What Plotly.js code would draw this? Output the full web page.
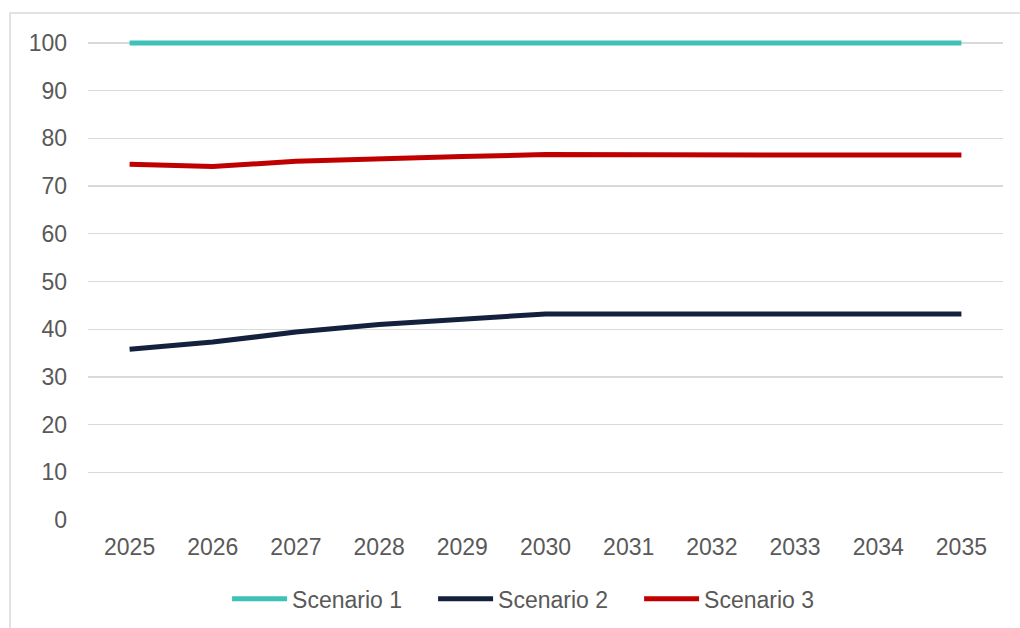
<!DOCTYPE html>
<html>
<head>
<meta charset="utf-8">
<script src="https://cdn.plot.ly/plotly-3.0.1.min.js"></script>
<style>
  html, body { margin: 0; padding: 0; background: #fff; }
  #chart { width: 1020px; height: 628px; }
</style>
</head>
<body>
<div id="chart"></div>
<script>
const years = ["2025","2026","2027","2028","2029","2030","2031","2032","2033","2034","2035"];
const scenario1 = [100, 100, 100, 100, 100, 100, 100, 100, 100, 100, 100];
const scenario2 = [35.8, 37.3, 39.4, 41.0, 42.1, 43.2, 43.2, 43.2, 43.2, 43.2, 43.2];
const scenario3 = [74.6, 74.1, 75.2, 75.8, 76.2, 76.6, 76.5, 76.5, 76.5, 76.5, 76.5];
const seriesNames = ["Scenario 1", "Scenario 2", "Scenario 3"];
const seriesColors = ["#3EC1B8", "#14213D", "#C00000"];

const allSeries = [scenario1, scenario2, scenario3];
const traces = allSeries.map((vals, i) => ({
  type: "scatter",
  mode: "lines",
  x: years,
  y: vals,
  name: seriesNames[i],
  line: { color: seriesColors[i], width: 5 },
  cliponaxis: false,
  hoverinfo: "x+y+name"
}));

const fontFam = "Liberation Sans, Arial, sans-serif";
const fs = 23;
const layout = {
  width: 1020,
  height: 628,
  margin: { l: 88, r: 17, t: 40, b: 108, autoexpand: false },
  paper_bgcolor: "#ffffff",
  plot_bgcolor: "#ffffff",
  font: { family: fontFam, size: fs, color: "#595959" },
  xaxis: {
    type: "category",
    range: [-0.5, 10.5],
    showgrid: false,
    showline: false,
    zeroline: false,
    ticks: "",
    ticklabelstandoff: 11,
    tickfont: { family: fontFam, size: fs, color: "#595959" }
  },
  yaxis: {
    range: [0, 100.63],
    tickmode: "linear",
    dtick: 10,
    tick0: 0,
    showgrid: true,
    gridcolor: "#d9d9d9",
    gridwidth: 1.3,
    zeroline: false,
    showline: false,
    ticks: "",
    ticklabelstandoff: 20,
    tickfont: { family: fontFam, size: fs, color: "#595959" }
  },
  showlegend: true,
  legend: {
    orientation: "h",
    x: 0.152,
    xanchor: "left",
    y: -0.164,
    yanchor: "middle",
    itemwidth: 55,
    entrywidth: 136,
    font: { family: fontFam, size: fs, color: "#595959" },
    bgcolor: "rgba(0,0,0,0)"
  },
  shapes: [{
    type: "rect",
    xref: "paper", yref: "paper",
    x0: -0.0852, x1: 1.05,
    y0: -0.30, y1: 1.0563,
    line: { color: "#d9d9d9", width: 1.5 },
    fillcolor: "rgba(0,0,0,0)",
    layer: "below"
  }]
};

Plotly.newPlot("chart", traces, layout, { displayModeBar: false, staticPlot: true });
</script>
</body>
</html>
